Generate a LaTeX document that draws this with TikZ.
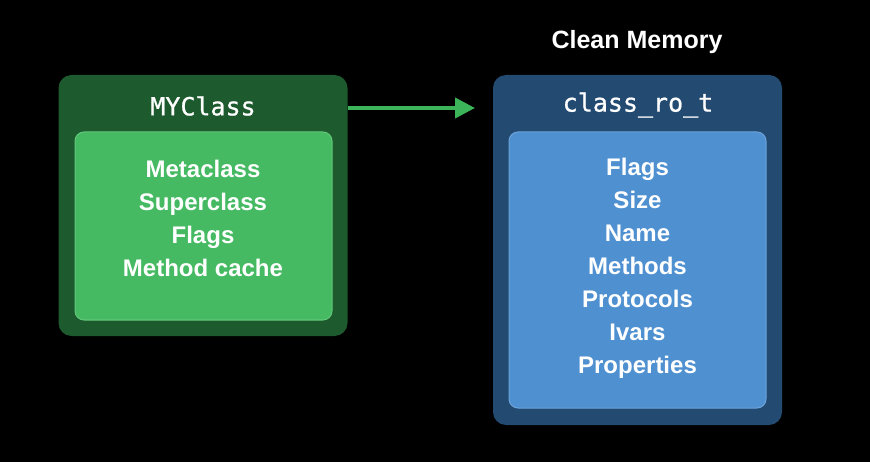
\documentclass[tikz,border=0pt]{standalone}
\usepackage{fontspec}
\setmainfont{Liberation Sans}
\setmonofont[UprightFeatures={FakeBold=0.8}]{DejaVu Sans Mono}
\usetikzlibrary{arrows.meta}
\definecolor{gouter}{HTML}{1D5A2D}
\definecolor{ginner}{HTML}{45BA62}
\definecolor{gedge}{HTML}{62C77B}
\definecolor{bouter}{HTML}{234B71}
\definecolor{binner}{HTML}{4F90D1}
\definecolor{bedge}{HTML}{6CA3DA}
\definecolor{arrowg}{HTML}{3CB55A}
\begin{document}
\begin{tikzpicture}[x=1pt,y=-1pt,
  outerbox/.style={rounded corners=13pt, minimum width=289pt, inner sep=0pt},
  innerbox/.style={rounded corners=9pt, minimum width=257pt, inner sep=0pt, line width=1pt},
  title/.style={text=white, font=\ttfamily\fontsize{25}{30}\selectfont, inner sep=0pt},
  items/.style={text=white, align=center, inner sep=0pt, font=\bfseries\fontsize{24}{33}\selectfont},
  head/.style={text=white, inner sep=0pt, font=\bfseries\fontsize{25}{30}\selectfont}]
\fill[black] (0,0) rectangle (870,462);
\useasboundingbox (0,0) rectangle (870,462);
% left
\node[outerbox, fill=gouter, minimum height=261pt] (lo) at (203,205.5) {};
\node[innerbox, fill=ginner, draw=gedge, minimum height=188pt] (li) at (203.5,226) {};
\node[title] (lt) at (203,106) {MYClass};
\node[items] (ll) at (203,218.5) {Metaclass\\Superclass\\Flags\\Method cache};
% right
\node[outerbox, fill=bouter, minimum height=350pt] (ro) at (637.5,250) {};
\node[innerbox, fill=binner, draw=bedge, minimum height=276pt] (ri) at (637.5,270) {};
\node[title] (rt) at (638,105) {class\_ro\_t};
\node[items] (rl) at (637.5,268) {Flags\\Size\\Name\\Methods\\Protocols\\Ivars\\Properties};
\node[head] (cm) at (637,42) {Clean Memory};
% arrow
\coordinate (tip) at (475,108);
\draw[arrowg, line width=4pt, -{Triangle[length=20pt,width=20pt]}] (lo.east |- tip) -- (tip);
\end{tikzpicture}
\end{document}
